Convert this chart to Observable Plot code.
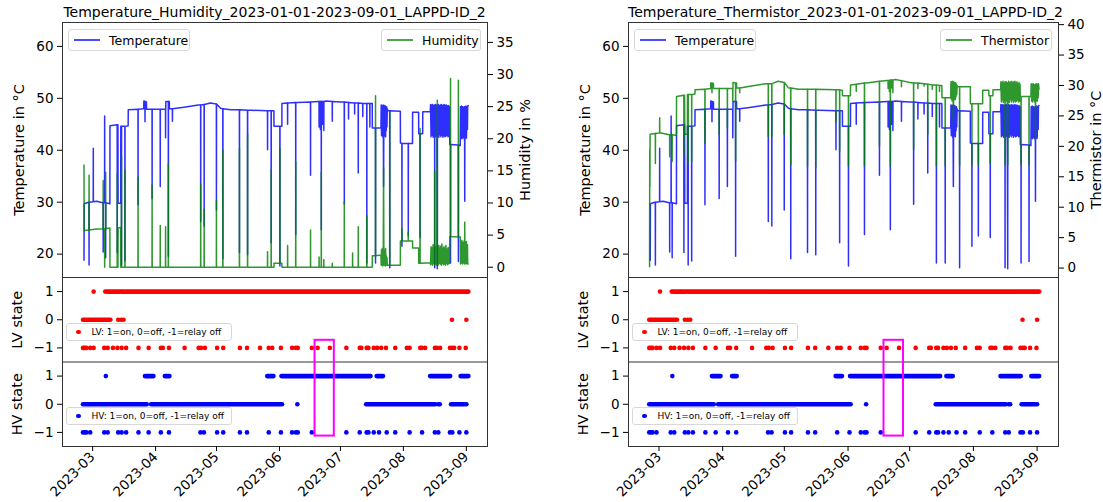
<!DOCTYPE html>
<html><head><meta charset="utf-8">
<script src="https://cdn.jsdelivr.net/npm/d3@7"></script>
<script src="https://cdn.jsdelivr.net/npm/@observablehq/plot@0.6"></script>
<style>
html,body{margin:0;padding:0;background:#fff;}
#root{position:relative;width:1103px;height:502px;overflow:hidden;font-family:"DejaVu Sans",sans-serif;color:#000;}
.title{position:absolute;top:4px;font-size:14px;line-height:16px;text-align:center;white-space:nowrap;}
.leg{position:absolute;box-sizing:border-box;border:1px solid #d8d8d8;border-radius:3px;background:rgba(255,255,255,0.85);display:flex;align-items:center;white-space:nowrap;}
.leg .ln{display:inline-block;height:0;border-top:2px solid;margin:0 9px 0 5px;width:26px;}
.leg .dt{display:inline-block;width:4.5px;height:4.5px;border-radius:50%;margin:0 11px 0 9px;}
</style></head><body><div id="root"></div>
<script>
// ---------- axes / ticks ----------
const xDomainStr = ["02-14T04", "09-11T10"];
const monthTicks = ["03-01", "04-01", "05-01", "06-01", "07-01", "08-01", "09-01"];
const tempDomain = [15.5, 64.6];
const tempTicks = [20, 30, 40, 50, 60];
const humDomain = [-1.6, 38.1];
const humTicks = [0, 5, 10, 15, 20, 25, 30, 35];
const thermDomain = [-1.55, 40.35];
const thermTicks = [0, 5, 10, 15, 20, 25, 30, 35, 40];
const stateTicks = [-1, 0, 1];

// ---------- temperature (°C) ----------
const tempLevels = [
["02-24T18",18.8],["02-24T20",29.7],["02-27T00",30.0],["03-03T00",30.2],["03-06T00",29.9],["03-09T12",29.7],
["03-09T13",44.7],["03-13T11",44.9],["03-13T13",29.8],["03-14T20",29.8],["03-14T21",44.6],["03-18T12",44.7],
["03-18T13",47.8],["03-26T04",48.0],["03-26T05",49.5],["03-27T12",49.3],["03-27T13",47.9],["04-06T00",47.9],
["04-06T01",49.4],["04-07T18",49.4],["04-07T19",48.0],["04-15T00",48.3],["04-22T00",48.7],["04-28T00",49.1],
["05-01T00",48.8],["05-03T00",48.1],["05-08T00",47.8],["05-18T00",47.7],["05-29T06",47.6],["05-29T07",44.6],
["06-02T04",44.6],["06-02T05",49.0],["06-10T00",49.2],["06-20T00",49.4],["06-24T00",49.5],["07-01T00",49.3],
["07-10T00",49.1],["07-16T16",49.0],["07-16T17",44.3],["07-20T23",44.3],["07-24T06",47.6],["07-30T12",47.5],
["07-30T13",41.4],["08-05T12",41.3],["08-05T13",47.3],["08-08T12",47.3],["08-08T13",43.2],["08-10T12",43.2],
["08-10T13",47.4],["08-14T06",47.4],["08-23T20",41.1],["08-29T00",40.9],["09-01T22",48.6]];
const tempSpikes = [
["02-27T06",30.0,17.9],["03-01T08",30.1,40.4],["03-06T05",29.9,20.4],["03-06T22",29.9,46.6],["03-07T10",29.9,19.3],
["03-13T03",44.9,20.3],["03-15T05",44.6,17.9],["03-16T22",44.6,18.7],["03-23T09",47.9,29.5],["03-26T19",49.4,45.5],
["03-30T07",47.9,30.7],["04-03T07",47.9,33.0],["04-05T22",47.9,42.4],["04-07T07",49.4,19.6],["04-09T07",48.0,45.6],
["04-23T05",48.7,26.3],["04-24T22",48.8,25.4],["04-30T23",48.9,28.5],["05-04T03",48.0,19.1],["05-12T07",47.8,20.3],
["05-16T07",47.7,19.9],["05-26T03",47.6,40.1],["05-27T22",47.6,22.2],["06-01T05",44.6,17.7],["06-05T00",49.1,45.0],
["06-09T00",49.2,23.8],["06-16T07",49.3,35.2],["06-20T12",49.4,44.5],["06-21T03",49.4,44.0],["06-21T14",49.4,24.7],
["06-22T06",49.4,45.0],["06-22T20",49.4,43.8],["06-27T00",49.4,45.6],["07-02T22",49.3,29.6],["07-05T00",49.2,46.0],
["07-08T00",49.1,47.0],["07-09T19",49.1,35.6],["07-12T00",49.0,46.5],["07-14T00",49.0,18.3],["07-15T12",49.0,44.5],
["07-18T07",44.3,18.3],["07-25T07",47.6,17.4],["07-31T07",41.3,21.5],["08-03T10",41.3,23.5],["08-09T05",43.2,23.2],
["08-24T05",41.1,18.3],["08-28T02",41.0,18.6]];

// ---------- dense switching periods ----------
const osc1Dates = ["07-21T02","07-21T06","07-21T10","07-21T14","07-21T18","07-21T22","07-22T02","07-22T06","07-22T10","07-22T14",
"07-22T18","07-22T22","07-23T02","07-23T06","07-23T10","07-23T14","07-23T18","07-23T22","07-24T02"];
const osc1Temp = [48.7,42.8,48.6,43.0,48.5,42.5,48.7,33.0,48.4,42.7,48.6,43.2,48.5,42.6,48.3,43.8,48.4,44.5,48.0];
const osc1Hum = [0.3,2.8,0.4,2.5,0.2,3.0,0.5,15.5,0.3,2.7,0.4,2.2,0.2,2.9,0.6,1.8,0.3,1.5,0.4];
const osc1Therm = [30.6,27.8,30.4,27.5,30.7,27.9,30.5,24.0,30.6,27.6,30.3,28.0,30.5,27.7,30.4,28.2,30.2,28.5,30.0];

const osc2Dates = ["08-14T09","08-14T15","08-14T21","08-15T03","08-15T09","08-15T15","08-15T21","08-16T03","08-16T09","08-16T10",
"08-16T11","08-16T17","08-16T23","08-17T05","08-17T11","08-17T17","08-17T18","08-17T23","08-18T05","08-18T11","08-18T17",
"08-18T23","08-19T05","08-19T11","08-19T17","08-19T23","08-20T05","08-20T11","08-20T17","08-20T23","08-21T05","08-21T11",
"08-21T17","08-21T23","08-22T05","08-22T11","08-22T17","08-22T23","08-23T05","08-23T11","08-23T17"];
const osc2Temp = [48.8,42.6,48.7,42.9,48.8,42.5,48.6,43.1,48.7,17.4,48.7,42.6,48.8,42.8,48.6,17.2,48.6,42.7,48.8,42.5,48.6,
43.0,48.7,42.6,48.8,42.9,48.6,42.5,48.7,42.8,48.8,42.6,48.6,42.7,48.7,42.9,48.5,42.6,48.6,42.7,48.4];
const osc2Hum = [0.4,3.2,0.5,3.0,0.3,3.5,0.6,2.8,0.4,15.0,0.4,3.3,0.5,2.9,0.3,26.0,0.5,3.1,0.4,3.4,0.6,3.0,0.5,3.3,0.3,3.6,
0.6,2.9,0.4,3.2,0.5,3.0,0.3,3.4,0.6,2.8,0.4,3.0,0.5,3.1,0.6];
const osc2Therm = [30.6,27.3,30.5,27.6,30.7,27.2,30.4,27.8,30.6,17.0,30.5,27.4,30.6,27.5,30.4,17.0,30.5,27.3,30.7,27.2,30.4,
27.7,30.6,27.3,30.7,27.6,30.4,27.2,30.6,27.5,30.7,27.3,30.4,27.4,30.6,27.6,30.3,27.3,30.5,27.4,30.2];

const osc3Dates = ["08-29T03","08-29T09","08-29T15","08-29T21","08-30T03","08-30T09","08-30T15","08-30T21","08-31T03","08-31T05",
"08-31T07","08-31T13","08-31T19","09-01T01","09-01T07","09-01T13","09-01T16"];
const osc3Temp = [48.4,42.3,48.5,42.2,48.4,42.5,48.3,42.2,48.4,30.2,48.4,42.4,48.5,42.3,48.4,44.0,48.5];
const osc3Hum = [0.5,4.0,0.6,4.2,0.5,3.8,0.7,4.1,0.5,7.0,0.6,3.9,0.5,4.0,0.6,3.5,0.5];
const osc3Therm = [30.3,27.4,30.2,27.3,30.3,27.6,30.1,27.3,30.2,21.0,30.2,27.5,30.3,27.4,30.2,28.0,30.3];

// ---------- humidity (%) ----------
const humLevels = [
["02-24T18",15.9],["02-24T20",5.7],["03-02T00",5.9],["03-09T12",6.1],["03-09T13",0.0],["03-13T11",0.0],["03-13T13",6.1],
["03-14T20",6.2],["03-14T21",0.0],["05-29T06",0.0],["05-29T07",0.6],["06-02T04",0.6],["06-02T05",0.0],["07-16T16",0.0],
["07-16T17",1.8],["07-20T23",1.9],["07-24T06",0.3],["07-30T12",0.3],["07-30T13",4.1],["08-05T12",4.1],["08-05T13",3.0],
["08-08T12",3.0],["08-08T13",0.6],["08-14T06",0.7],["08-23T20",4.8],["08-29T00",4.7],["09-01T22",0.5]];
const humSpikes = [
["02-27T06",5.8,14.3],["03-06T05",6.0,13.5],["03-06T22",6.0,0.0],["03-07T10",6.0,14.8],["03-13T03",0,14.6],
["03-15T05",0,17.4],["03-16T22",0,15.1],["03-23T09",0,14.0],["03-30T07",0,12.8],["04-03T07",0,6.5],["04-05T22",0,6.3],
["04-07T07",0,16.1],["04-23T05",0,13.0],["04-24T22",0,9.0],["04-30T23",0,10.4],["05-04T03",0,18.2],["05-12T07",0,18.5],
["05-16T07",0,20.8],["05-26T03",0,2.4],["05-27T22",0,15.1],["06-01T05",0.6,18.5],["06-05T00",0,3.4],["06-09T00",0,16.4],
["06-16T07",0,5.8],["06-20T12",0,1.6],["06-21T14",0,14.8],["06-22T20",0,1.2],["06-27T00",0,0.6],["07-02T22",0,10.2],
["07-07T00",0,2.2],["07-09T19",0,6.3],["07-14T00",0,8.0],["07-18T07",1.8,26.7],["07-25T07",0.3,24.2],["07-31T07",4.1,6.0],
["08-03T10",4.1,5.5],["08-09T05",0.6,21.6],["08-24T05",4.8,29.4],["08-28T02",4.7,29.1]];

// ---------- thermistor (°C) ----------
const thermLevels = [
["02-24T10",0.2],["02-24T12",19.4],["02-24T14",13.4],["02-24T16",22.0],["02-27T00",22.1],["03-02T00",22.2],["03-06T00",21.9],
["03-09T12",21.8],["03-09T13",28.2],["03-13T11",28.4],["03-13T13",22.0],["03-14T20",22.0],["03-14T21",28.5],["03-18T12",28.6],
["03-18T13",29.3],["03-26T04",29.5],["03-26T05",30.4],["03-27T12",30.3],["03-27T13",29.5],["04-06T00",29.5],["04-06T01",30.5],
["04-07T18",30.4],["04-07T19",29.6],["04-15T00",29.9],["04-22T00",30.3],["04-28T00",30.7],["05-01T00",30.4],["05-03T00",29.6],
["05-08T00",29.4],["05-29T06",29.2],["05-29T07",28.3],["06-02T04",28.3],["06-02T05",30.1],["06-10T00",30.4],["06-20T00",30.8],
["06-24T00",31.0],["07-01T00",30.5],["07-10T00",30.2],["07-16T16",30.0],["07-16T17",28.0],["07-20T23",28.0],["07-24T06",29.8],
["07-30T12",29.8],["07-30T13",27.0],["08-05T12",27.0],["08-05T13",29.2],["08-08T12",29.2],["08-08T13",28.3],["08-10T12",28.3],
["08-10T13",29.3],["08-14T06",29.3],["08-23T20",28.2],["08-29T00",28.2],["09-01T22",29.4]];
const thermSpikes = [
["02-27T06",22.1,17.2],["03-01T08",22.2,24.7],["03-06T05",21.9,18.3],["03-07T10",21.9,17.5],["03-13T03",28.4,18.5],
["03-15T05",28.5,17.2],["03-16T22",28.5,17.5],["03-23T09",29.4,20.5],["03-26T19",30.4,28.8],["03-30T07",29.5,22.0],
["04-03T07",29.5,23.0],["04-05T22",29.5,27.5],["04-07T07",30.4,17.5],["04-09T07",29.6,28.8],["04-23T05",30.3,21.6],
["04-24T22",30.3,21.6],["04-30T23",30.5,22.0],["05-04T03",29.6,17.0],["05-12T07",29.4,16.7],["05-16T07",29.4,16.5],
["05-26T03",29.3,24.0],["05-27T22",29.3,19.2],["06-01T05",28.3,16.8],["06-05T00",30.2,29.0],["06-09T00",30.4,16.8],
["06-16T07",30.7,20.0],["06-20T12",30.8,29.5],["06-21T03",30.8,29.0],["06-21T14",30.9,16.8],["06-22T06",30.9,29.6],
["06-22T20",30.9,28.8],["06-27T00",30.8,29.8],["07-02T22",30.4,19.5],["07-05T00",30.4,29.5],["07-08T00",30.3,29.9],
["07-09T19",30.2,22.0],["07-12T00",30.1,29.4],["07-14T00",30.1,16.8],["07-15T12",30.0,29.0],["07-18T07",28.0,16.8],
["07-25T07",29.8,16.8],["07-31T07",27.0,17.0],["08-03T10",27.0,17.0],["08-09T05",28.3,17.2],["08-24T05",28.2,17.0],
["08-28T02",28.2,17.0]];

// ---------- LV / HV states ----------
const lvOnDots = ["03-01T12","03-07T05"];
const lvOnRuns = [["03-08T06","03-14T10"],["03-15T07","09-02T06"]];
const lvOffDots = ["03-13T14","03-15T00","03-16T05","08-24T22","09-01T00"];
const lvOffRuns = [["02-24T12","03-10T00"]];
const lvRelayDots = ["02-27T19","03-01T12","03-06T17","03-08T10","03-11T00","03-13T05","03-15T07","03-17T12","03-23T14",
"03-28T14","04-03T14","04-04T14","04-07T14","04-15T07","04-22T05","04-23T10","04-25T07","05-01T07","05-04T07","05-12T12",
"05-16T00","05-22T10","05-26T17","05-28T10","06-01T17","06-07T05","06-09T02","06-10T00","06-16T22","06-19T19","06-25T19",
"07-03T22","07-10T12","07-11T07","07-13T22","07-14T19","07-17T10","07-19T02","07-21T02","07-23T10","07-28T00","08-02T17",
"08-04T02","08-09T07","08-10T02","08-11T17","08-16T12","08-17T10","08-19T02","08-23T22","08-25T02","08-26T00","08-28T14",
"08-31T17"];
const lvRelayRuns = [["02-24T12","02-26T04"]];

const hvOnDots = ["03-07T12"];
const hvOnRuns = [["03-27T00","03-31T05"],["04-05T19","04-08T02"],["05-26T05","05-29T07"],["06-02T05","07-16T02"],
["07-19T02","07-22T05"],["08-14T10","08-24T07"],["08-29T10","09-02T06"]];
const hvOffDots = ["06-09T19","08-18T05","08-18T22","09-01T00"];
const hvOffRuns = [["02-24T12","03-27T22"],["03-30T00","06-02T12"],["07-13T22","08-17T00"],["08-24T17","08-31T07"]];
const hvRelayDots = ["02-27T19","03-06T17","03-08T10","03-13T14","03-15T07","03-17T12","03-23T14","03-28T14","04-03T14",
"04-07T14","04-23T02","04-24T19","05-01T07","05-04T07","05-12T12","05-16T00","05-26T17","06-01T17","06-07T05","06-09T02",
"06-10T00","06-16T22","07-03T22","07-10T12","07-13T22","07-14T19","07-17T10","07-20T00","07-23T19","07-28T00","08-04T02",
"08-10T05","08-16T12","08-18T05","08-23T22","08-25T02","08-28T14","09-01T00"];
const hvRelayRuns = [["02-24T12","02-26T04"]];

// highlighted window (dates, LV top value, HV bottom value)
const boxDates = ["06-18T12", "06-28T00"];
const boxLvTop = -0.73;
const boxHvBottom = -1.13;

// ---------- helpers ----------
const P = s => new Date(`2023-${s.length === 5 ? s + "T00" : s}:00Z`);
const HOUR = 36e5;
const xDomain = xDomainStr.map(P);
function build(levels, spikes, oscs) {
  const pts = levels.map(([d, v]) => ({date: P(d), v}));
  for (const [dates, vals] of oscs) dates.forEach((d, i) => pts.push({date: P(d), v: vals[i]}));
  for (const [d, b, e] of spikes) {
    const c = +P(d);
    pts.push({date: new Date(c - HOUR), v: b}, {date: new Date(c), v: e}, {date: new Date(c + HOUR), v: b});
  }
  return pts.sort((a, b) => a.date - b.date);
}
const temp = build(tempLevels, tempSpikes, [[osc1Dates, osc1Temp], [osc2Dates, osc2Temp], [osc3Dates, osc3Temp]]);
const hum = build(humLevels, humSpikes, [[osc1Dates, osc1Hum], [osc2Dates, osc2Hum], [osc3Dates, osc3Hum]]);
const therm = build(thermLevels, thermSpikes, [[osc1Dates, osc1Therm], [osc2Dates, osc2Therm], [osc3Dates, osc3Therm]]);

const minus = v => (v < 0 ? "\u2212" + (-v) : String(v));
const LV_OFFSET = 3;
function stateDots(list, v, off) { return list.map(d => ({date: P(d), y: v + off})); }
function stateRuns(list, v, off) { return list.map(([a, b]) => ({a: P(a), b: P(b), y: v + off})); }
const lvDots = [...stateDots(lvOnDots, 1, LV_OFFSET), ...stateDots(lvOffDots, 0, LV_OFFSET), ...stateDots(lvRelayDots, -1, LV_OFFSET)];
const lvRuns = [...stateRuns(lvOnRuns, 1, LV_OFFSET), ...stateRuns(lvOffRuns, 0, LV_OFFSET), ...stateRuns(lvRelayRuns, -1, LV_OFFSET)];
const hvDots = [...stateDots(hvOnDots, 1, 0), ...stateDots(hvOffDots, 0, 0), ...stateDots(hvRelayDots, -1, 0)];
const hvRuns = [...stateRuns(hvOnRuns, 1, 0), ...stateRuns(hvOffRuns, 0, 0), ...stateRuns(hvRelayRuns, -1, 0)];

const FONT = '"DejaVu Sans", sans-serif';
const root = document.getElementById("root");

const panels = [
  {left: 0, fl: 62, fr: 487, title: "Temperature_Humidity_2023-01-01-2023-09-01_LAPPD-ID_2",
   sec: hum, secDomain: humDomain, secTicks: humTicks, secName: "Humidity", secLabel: "Humidity in %", secLegW: 100},
  {left: 553, fl: 628, fr: 1058, title: "Temperature_Thermistor_2023-01-01-2023-09-01_LAPPD-ID_2",
   sec: therm, secDomain: thermDomain, secTicks: thermTicks, secName: "Thermistor", secLabel: "Thermistor in \u00b0C", secLegW: 112}
];

function place(el, left, top) { el.style.position = "absolute"; el.style.left = left + "px"; el.style.top = top + "px"; root.appendChild(el); }

for (const p of panels) {
  const W = 550, mL = p.fl - p.left, mR = p.left + W - p.fr;
  const [T0, T1] = tempDomain, [S0, S1] = p.secDomain;
  const toT = v => T0 + (v - S0) * (T1 - T0) / (S1 - S0);
  const fromT = y => S0 + (y - T0) * (S1 - S0) / (T1 - T0);
  const style = {fontFamily: FONT, fontSize: "13.5px", color: "#000", background: "transparent", overflow: "visible"};

  const top = Plot.plot({
    width: W, height: 280, marginLeft: mL, marginRight: mR, marginTop: 22, marginBottom: 3,
    x: {type: "utc", domain: xDomain, axis: null},
    y: {domain: tempDomain, axis: null},
    style,
    marks: [
      Plot.line(temp, {x: "date", y: "v", stroke: "#0000ff", strokeOpacity: 0.82, strokeWidth: 1.5}),
      Plot.line(p.sec, {x: "date", y: d => toT(d.v), stroke: "#008000", strokeOpacity: 0.82, strokeWidth: 1.5}),
      Plot.frame({stroke: "#333"}),
      Plot.axisY(tempTicks, {anchor: "left", tickSize: 5, tickPadding: 4, label: null}),
      Plot.axisY(p.secTicks.map(toT), {anchor: "right", tickSize: 5, tickPadding: 4, label: null,
        tickFormat: y => String(Math.round(fromT(y)))}),
      Plot.text(["Temperature in \u00b0C"], {text: d => d, frameAnchor: "left", textAnchor: "middle", rotate: -90, dx: -43, fontSize: 14.5}),
      Plot.text([p.secLabel], {text: d => d, frameAnchor: "right", textAnchor: "middle", rotate: -90, dx: 38, fontSize: 14.5})
    ]
  });
  place(top, p.left, 0);

  const st = Plot.plot({
    width: W, height: 240, marginLeft: mL, marginRight: mR, marginTop: 15, marginBottom: 56,
    x: {type: "utc", domain: xDomain, axis: null},
    y: {domain: [-1.5, 4.5], axis: null},
    style,
    marks: [
      Plot.ruleY(lvRuns, {x1: "a", x2: "b", y: "y", stroke: "#ff0000", strokeWidth: 4.6, strokeLinecap: "round"}),
      Plot.dot(lvDots, {x: "date", y: "y", r: 2.3, fill: "#ff0000"}),
      Plot.ruleY(hvRuns, {x1: "a", x2: "b", y: "y", stroke: "#0000ff", strokeWidth: 4.6, strokeLinecap: "round"}),
      Plot.dot(hvDots, {x: "date", y: "y", r: 2.3, fill: "#0000ff"}),
      Plot.ruleY([1.5], {stroke: "#333"}),
      Plot.rect([{a: P(boxDates[0]), b: P(boxDates[1]), y1: boxHvBottom, y2: boxLvTop + LV_OFFSET}],
        {x1: "a", x2: "b", y1: "y1", y2: "y2", fill: "none", stroke: "#ff00ff", strokeWidth: 2}),
      Plot.frame({stroke: "#333"}),
      Plot.axisX(monthTicks.map(P), {anchor: "bottom", tickFormat: d3.utcFormat("%Y-%m"), tickRotate: -45, tickSize: 5, tickPadding: 3, label: null}),
      Plot.axisY([...stateTicks, ...stateTicks.map(v => v + LV_OFFSET)], {anchor: "left", tickSize: 5, tickPadding: 4, label: null,
        tickFormat: v => minus(v > 1.5 ? v - LV_OFFSET : v)}),
      Plot.text([{t: "LV state", y: LV_OFFSET}, {t: "HV state", y: 0}], {text: "t", y: "y", frameAnchor: "left", textAnchor: "middle", rotate: -90, dx: -45, fontSize: 14.5})
    ]
  });
  place(st, p.left, 262);

  // title
  const t = document.createElement("div");
  t.className = "title"; t.textContent = p.title;
  t.style.left = p.fl + "px"; t.style.width = (p.fr - p.fl) + "px";
  root.appendChild(t);

  // legends
  const mk = (html, left, top, w, h, fs) => {
    const d = document.createElement("div"); d.className = "leg"; d.innerHTML = html;
    d.style.left = left + "px"; d.style.top = top + "px"; d.style.width = w + "px"; d.style.height = h + "px"; d.style.fontSize = fs + "px";
    root.appendChild(d);
  };
  mk('<span class="ln" style="border-color:rgba(0,0,255,0.7)"></span>Temperature', p.fl + 6, 29, 122, 22, 12.5);
  mk(`<span class="ln" style="border-color:rgba(0,128,0,0.7)"></span>${p.secName}`, p.fr - 6 - p.secLegW, 29, p.secLegW, 22, 12.5);
  mk('<span class="dt" style="background:#ff0000"></span>LV: 1=on, 0=off, -1=relay off', p.fl + 4, 323, 166, 18, 9);
  mk('<span class="dt" style="background:#0000ff"></span>HV: 1=on, 0=off, -1=relay off', p.fl + 4, 407, 166, 18, 9);
}
</script></body></html>
